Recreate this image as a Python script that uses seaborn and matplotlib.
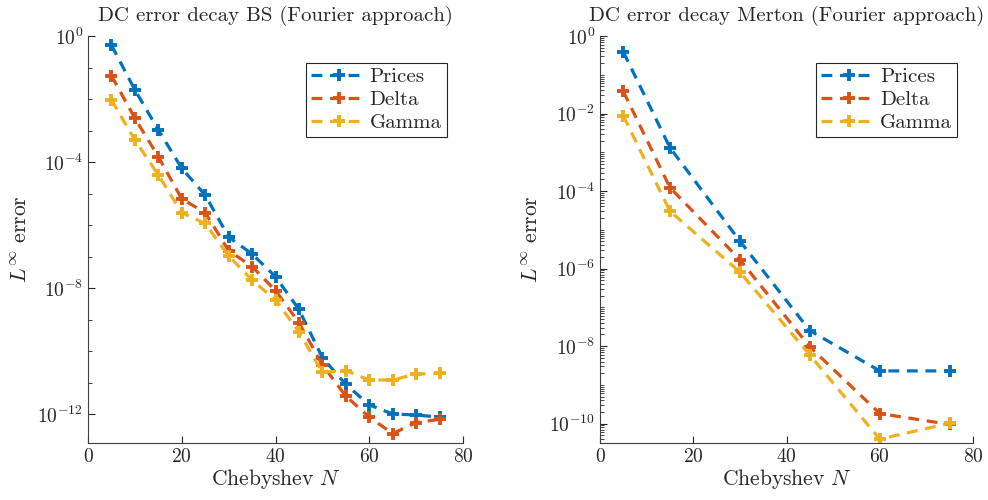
import numpy as np
import pandas as pd
import seaborn as sns
import matplotlib
matplotlib.use("Agg")
import matplotlib.pyplot as plt
from matplotlib.ticker import FixedLocator, LogLocator, NullFormatter

# ---- data (log10 of the error) ----
n_bs = [5, 10, 15, 20, 25, 30, 35, 40, 45, 50, 55, 60, 65, 70, 75]
bs_prices = [-0.29, -1.71, -2.98, -4.2, -5.05, -6.38, -6.92, -7.64, -8.68, -10.21, -11.06, -11.71, -12.0, -12.03, -12.1]
bs_delta = [-1.26, -2.61, -3.83, -5.17, -5.61, -6.81, -7.32, -8.08, -9.1, -10.44, -11.43, -12.1, -12.62, -12.27, -12.17]
bs_gamma = [-2.03, -3.3, -4.41, -5.61, -5.95, -6.98, -7.75, -8.38, -9.39, -10.68, -10.62, -10.92, -10.92, -10.73, -10.71]

n_mer = [5, 15, 30, 45, 60, 75]
mer_prices = [-0.41, -2.88, -5.29, -7.6, -8.64, -8.64]
mer_delta = [-1.43, -3.91, -5.77, -8.02, -9.74, -10.02]
mer_gamma = [-2.06, -4.52, -6.09, -8.23, -10.4, -9.99]

labels = ["Prices", "Delta", "Gamma"]
colors = ["#0072BD", "#D95319", "#EDB120"]

sns.set_style("white")
plt.rcParams["font.family"] = ["cmr10"]
plt.rcParams["mathtext.fontset"] = "cm"
plt.rcParams["axes.unicode_minus"] = False
plt.rcParams["axes.formatter.use_mathtext"] = True

fig = plt.figure(figsize=(9.88, 5), dpi=100)
ax1 = fig.add_axes([88 / 988, 57 / 500, 375 / 988, 407 / 500])
ax2 = fig.add_axes([600 / 988, 57 / 500, 373 / 988, 407 / 500])


def draw(ax, n, series, title, ylim, major, minor_subs):
    for lab, col, s in zip(labels, colors, series):
        df = pd.DataFrame({"N": n, "err": 10.0 ** np.array(s)})
        sns.lineplot(data=df, x="N", y="err", ax=ax, color=col, label=lab,
                     marker="+", markersize=9, markeredgewidth=2.8,
                     markeredgecolor=col, linewidth=2.3, dashes=(3.4, 2.4))
    ax.set_yscale("log")
    ax.set_xlim(0, 80)
    ax.set_ylim(*ylim)
    ax.set_xticks([0, 20, 40, 60, 80])
    ax.yaxis.set_major_locator(FixedLocator(major))
    ax.set_yticklabels([r"$10^{%d}$" % round(np.log10(v)) for v in major])
    ax.yaxis.set_minor_locator(LogLocator(base=10, subs=minor_subs, numticks=100))
    ax.yaxis.set_minor_formatter(NullFormatter())
    for sp in ["top", "right"]:
        ax.spines[sp].set_visible(False)
    for sp in ["left", "bottom"]:
        ax.spines[sp].set_color("#404040")
        ax.spines[sp].set_linewidth(0.8)
    ax.tick_params(axis="both", which="both", direction="in", labelsize=14,
                   colors="#262626", left=True, bottom=True)
    ax.tick_params(which="major", length=5)
    ax.tick_params(which="minor", length=3)
    ax.set_xlabel(r"Chebyshev $N$", fontsize=15.5, labelpad=1)
    ax.set_ylabel(r"$L^{\infty}$ error", fontsize=15.5, labelpad=5)
    ax.set_title(title, fontsize=15, pad=11)
    leg = ax.legend(loc="upper right", bbox_to_anchor=(0.985, 0.96), fontsize=15,
                    handlelength=2.6, fancybox=False, framealpha=1,
                    borderpad=0.25, labelspacing=0.2, handletextpad=0.2)
    leg.get_frame().set_edgecolor("#262626")
    leg.get_frame().set_linewidth(0.8)


draw(ax1, n_bs, [bs_prices, bs_delta, bs_gamma],
     "DC error decay BS (Fourier approach)", (10 ** -12.92, 1.0),
     [1e0, 1e-4, 1e-8, 1e-12], [1.0])
draw(ax2, n_mer, [mer_prices, mer_delta, mer_gamma],
     "DC error decay Merton (Fourier approach)", (10 ** -10.5, 1.0),
     [1e0, 1e-2, 1e-4, 1e-6, 1e-8, 1e-10], np.arange(1, 10))

fig.savefig("out.png", dpi=100)
